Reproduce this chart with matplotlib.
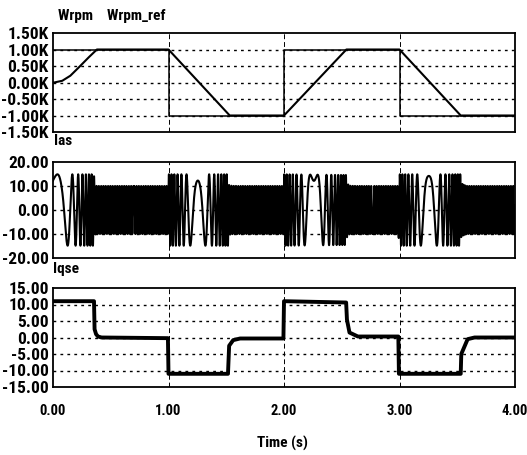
import numpy as np
import matplotlib
matplotlib.use('Agg')
import matplotlib.pyplot as plt
from matplotlib.ticker import FixedLocator
from matplotlib import font_manager as fm

# pick a narrow bold font if one is installed, otherwise fall back to DejaVu
fonts = fm.fontManager.ttflist
narrow = None
for name in ['Liberation Sans Narrow', 'Arial Narrow', 'Roboto Condensed', 'Open Sans Condensed']:
    if any(f.name == name for f in fonts):
        narrow = name
        break
if narrow:
    plt.rcParams['font.family'] = [narrow, 'DejaVu Sans']
    tick_size, xtick_size, label_size = 12.5, 10.5, 11
else:
    plt.rcParams['font.family'] = ['DejaVu Sans']
    tick_size, xtick_size, label_size = 9.5, 9, 9
plt.rcParams['font.weight'] = 'bold'

# rotor speed (rpm) breakpoints
wrpm_t = [0, 0.01, 0.08, 0.15, 0.224, 0.31, 0.38, 1.0, 1.53, 2.0, 2.54, 3.0, 3.53, 4.0]
wrpm_v = [0, 0, 52, 205, 460, 765, 1000, 1000, -1000, -1000, 1000, 1000, -1000, -1000]

# speed reference (rpm)
ref_t = [0, 1.0, 1.0, 2.0, 2.0, 3.0, 3.0, 4.0]
ref_v = [1000, 1000, -1000, -1000, 1000, 1000, -1000, -1000]

# q-axis current (A) breakpoints from the bottom panel
iq_t = [0, 0.355, 0.36, 0.373, 0.39, 0.42, 0.995, 1.0,
        1.515, 1.525, 1.56, 1.62, 1.995, 2.0,
        2.538, 2.545, 2.567, 2.64, 2.99, 2.995,
        3.53, 3.535, 3.59, 3.65, 4.0]
iq_v = [11, 11, 2.5, 1.0, 0.3, 0, -0.2, -11,
        -11, -2.5, -0.8, -0.3, -0.3, 11,
        10.6, 5.4, 1.5, 0.3, 0.3, -11,
        -11, -5, -0.5, 0, 0]

# motor constants used to rebuild phase current from speed and iq
pole_pairs = 3
ids = 10.0
k_slip = 1.2
# phase current angle at the slow (zero frequency) humps: start, ~1.25 s, ~2.26 s, ~3.25 s
seg_edges = [0, 0.7, 1.75, 2.77, 4.0]
hump_phase = [-0.6, -0.6, -0.6, -0.3]

t = np.linspace(0, 4, 60001)
w_mech = np.interp(t, wrpm_t, wrpm_v) * 2 * np.pi / 60
iq = np.interp(t, iq_t, iq_v)
we = pole_pairs * w_mech + k_slip * iq
theta_raw = np.concatenate(([0], np.cumsum((we[1:] + we[:-1]) / 2 * np.diff(t))))
theta = np.zeros_like(t)
for k in range(len(hump_phase)):
    m = (t >= seg_edges[k]) & (t <= seg_edges[k + 1])
    idx = np.where(m)[0]
    anchor = idx[0] if k == 0 else idx[np.argmin(np.abs(we[idx]))]
    theta[m] = theta_raw[m] - theta_raw[anchor] + hump_phase[k]
ias = np.sqrt(ids ** 2 + iq ** 2) * np.cos(theta)

fig = plt.figure(figsize=(5.27, 4.55), dpi=100)
W, H = 527.0, 455.0
left, right = 53, 515

def make_ax(top, bottom):
    ax = fig.add_axes([left / W, 1 - bottom / H, (right - left) / W, (bottom - top) / H])
    for s in ax.spines.values():
        s.set_linewidth(1.3)
    ax.set_xlim(0, 4)
    ax.tick_params(length=0, labelsize=tick_size, pad=3)
    return ax

def grid(ax, yvals):
    for y in yvals:
        ax.axhline(y, color='black', lw=1.0, dashes=(2, 3), zorder=1)
    for x in [1, 2, 3]:
        ax.axvline(x, color='black', lw=0.7, dashes=(5, 3), zorder=1)

# speed panel
ax1 = make_ax(33, 132)
ax1.plot(ref_t, ref_v, color='black', lw=1.1, zorder=3)
ax1.plot(wrpm_t, wrpm_v, color='black', lw=1.5, zorder=3)
ax1.set_ylim(-1500, 1500)
yt1 = [-1500, -1000, -500, 0, 500, 1000, 1500]
ax1.yaxis.set_major_locator(FixedLocator(yt1))
ax1.set_yticklabels(['%.2fK' % (v / 1000) for v in yt1])
ax1.set_xticks([1, 2, 3])
ax1.set_xticklabels([])
grid(ax1, yt1[1:-1])
fig.text(58 / W, 1 - 20 / H, 'Wrpm    Wrpm_ref', fontsize=label_size, ha='left', va='baseline')

# phase current panel
ax2 = make_ax(162, 258)
ax2.plot(t, ias, color='black', lw=1.5, zorder=3)
ax2.set_ylim(-20, 20)
yt2 = [-20, -10, 0, 10, 20]
ax2.yaxis.set_major_locator(FixedLocator(yt2))
ax2.set_yticklabels(['%.2f' % v for v in yt2])
ax2.set_xticks([1, 2, 3])
ax2.set_xticklabels([])
grid(ax2, yt2[1:-1])
fig.text(54 / W, 1 - 145 / H, 'Ias', fontsize=label_size, ha='left', va='baseline')

# q-axis current panel
ax3 = make_ax(288, 387)
ax3.plot(iq_t, iq_v, color='black', lw=2.8, zorder=3, solid_joinstyle='round')
ax3.set_ylim(-15, 15)
yt3 = [-15, -10, -5, 0, 5, 10, 15]
ax3.yaxis.set_major_locator(FixedLocator(yt3))
ax3.set_yticklabels(['%.2f' % v for v in yt3])
ax3.set_xticks([0, 1, 2, 3, 4])
ax3.set_xticklabels(['%.2f' % v for v in [0, 1, 2, 3, 4]])
ax3.tick_params(axis='x', pad=12, labelsize=xtick_size)
grid(ax3, yt3[1:-1])
fig.text(53 / W, 1 - 273 / H, 'Iqse', fontsize=label_size, ha='left', va='baseline')
fig.text(282 / W, 1 - 448 / H, 'Time (s)', fontsize=label_size, ha='center', va='baseline')

fig.savefig('out.png', dpi=100)
